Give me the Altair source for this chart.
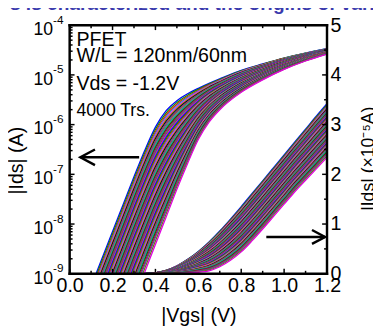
import altair as alt
import pandas as pd

# ---- data ----
# log-axis band: Vgs grid (V) and log10(|Ids| / A) of its leftmost and rightmost curves
LOG_V = [0.123, 0.20, 0.25, 0.30, 0.35, 0.40, 0.45, 0.50, 0.55, 0.60, 0.65, 0.70, 0.80, 0.90, 1.00, 1.10, 1.20]
LOG_LEFT = [-9.0, -8.15, -7.6, -7.05, -6.52, -6.05, -5.72, -5.52, -5.38, -5.27, -5.17, -5.08, -4.91, -4.78, -4.66, -4.56, -4.47]
LOG_RIGHT = [-11.5, -10.63, -10.08, -9.52, -8.97, -8.41, -7.86, -7.30, -6.78, -6.30, -5.95, -5.70, -5.35, -5.10, -4.89, -4.72, -4.58]
# linear-axis band: Vgs grid (V) and |Ids| (x1e-5 A) of its leftmost and rightmost curves
LIN_V = [0.35, 0.40, 0.45, 0.50, 0.55, 0.60, 0.65, 0.70, 0.75, 0.80, 0.85, 0.90, 0.95, 1.00, 1.05, 1.10, 1.15, 1.20]
LIN_LEFT = [0.0, 0.02, 0.07, 0.16, 0.29, 0.45, 0.64, 0.86, 1.10, 1.35, 1.61, 1.87, 2.13, 2.39, 2.65, 2.91, 3.17, 3.42]
LIN_RIGHT = [0.0, 0.0, 0.0, 0.0, 0.01, 0.03, 0.06, 0.14, 0.27, 0.44, 0.66, 0.90, 1.15, 1.40, 1.65, 1.88, 2.11, 2.34]
# position of each drawn transistor inside the spread (0 = leftmost, 1 = rightmost)
WEIGHTS = [0.00, 0.02, 0.04, 0.055, 0.07, 0.085, 0.10, 0.115, 0.13, 0.145, 0.16, 0.175,
           0.19, 0.205, 0.22, 0.235, 0.25, 0.265, 0.28, 0.295, 0.31, 0.325, 0.34, 0.355,
           0.37, 0.385, 0.40, 0.415, 0.43, 0.445, 0.46, 0.475, 0.49, 0.505, 0.52, 0.535,
           0.55, 0.565, 0.58, 0.595, 0.61, 0.625, 0.64, 0.655, 0.67, 0.685, 0.70, 0.715,
           0.73, 0.745, 0.76, 0.775, 0.79, 0.805, 0.82, 0.835, 0.85, 0.865, 0.88, 0.90,
           0.92, 0.94, 0.97, 1.00]
PALETTE = ["#0000ff", "#00a000", "#ff0000", "#00bfbf", "#ff00ff", "#a0a000",
           "#000000", "#7030a0", "#a05a2c", "#3c78b4", "#20a080", "#006400",
           "#c00040", "#5050a0", "#707020", "#e000e0"]

X_MAJOR = [0.0, 0.2, 0.4, 0.6, 0.8, 1.0, 1.2]
X_MINOR = [0.1, 0.3, 0.5, 0.7, 0.9, 1.1]
LOG_EXPS = [-4, -5, -6, -7, -8, -9]
LOG_MINOR = [k * 10.0 ** n for n in range(-9, -4) for k in range(2, 10)]
LIN_MAJOR = [0, 1, 2, 3, 4, 5]
LIN_MINOR = [0.5, 1.5, 2.5, 3.5, 4.5]

ANNOT_TEXT = ["PFET", "W/L = 120nm/60nm", "Vds = -1.2V", "4000 Trs."]
ANNOT_Y = [21, 38, 66, 93]
ANNOT_FS = [20, 20, 20, 18]

# arrows (data units)
LARROW_V = [0.324, 0.050, 0.118, 0.050, 0.118]
LARROW_E = [-6.657, -6.657, -6.500, -6.657, -6.814]
LARROW_SEG = [0, 0, 1, 1, 1]
RARROW_V = [0.917, 1.191, 1.130, 1.191, 1.130]
RARROW_J = [0.74, 0.74, 0.88, 0.74, 0.60]
RARROW_SEG = [0, 0, 1, 1, 1]

W, H = 263, 254

log_rows, lin_rows = [], []
for i, w in enumerate(WEIGHTS):
    c = PALETTE[i % len(PALETTE)]
    for v, a, b in zip(LOG_V, LOG_LEFT, LOG_RIGHT):
        log_rows.append({"curve": i, "V": v, "I": 10.0 ** (a + w * (b - a)), "color": c})
    for v, a, b in zip(LIN_V, LIN_LEFT, LIN_RIGHT):
        lin_rows.append({"curve": i, "V": v, "J": a + w * (b - a), "color": c})
log_df = pd.DataFrame(log_rows)
lin_df = pd.DataFrame(lin_rows)

xscale = alt.Scale(domain=[0, 1.2], nice=False, zero=False)
xaxis = alt.Axis(values=X_MAJOR, format=".1f", labelFontSize=20, ticks=False, domain=False,
                 grid=False, labelPadding=2, labelFlush=False, labelOverlap=False,
                 title="|Vgs|  (V)", titleFontSize=20, titleFontWeight="normal",
                 titleX=131.5, titleY=49, titleBaseline="alphabetic", titleAlign="center")
X = alt.X("V:Q", scale=xscale, axis=xaxis)

lscale = alt.Scale(type="log", domain=[1e-9, 1e-4], nice=False)
laxis = alt.Axis(labels=False, ticks=False, domain=False, grid=False,
                 title="|Ids|  (A)", titleFontSize=20, titleFontWeight="normal",
                 titleX=-54, titleY=138, titleAngle=270, titleBaseline="middle", titleAlign="center")
LY = alt.Y("I:Q", scale=lscale, axis=laxis)

rscale = alt.Scale(domain=[0, 5], nice=False, zero=False)
raxis = alt.Axis(orient="right", values=LIN_MAJOR, labelFontSize=20, ticks=False, domain=False,
                 grid=False, labelPadding=3, labelFlush=False, labelOverlap=False,
                 title="|Ids|  (×10⁻⁵A)", titleFontSize=18, titleFontWeight="normal",
                 titleX=43, titleY=136, titleAngle=270, titleBaseline="middle", titleAlign="center")
RY = alt.Y("J:Q", scale=rscale, axis=raxis)

log_lines = alt.Chart(log_df).mark_line(clip=True, strokeWidth=1.3, interpolate="monotone").encode(
    x=X, y=LY, detail="curve:N", color=alt.Color("color:N", scale=None))
lin_lines = alt.Chart(lin_df).mark_line(clip=True, strokeWidth=1.3, interpolate="monotone").encode(
    x=X, y=RY, detail="curve:N", color=alt.Color("color:N", scale=None))

xmaj = pd.DataFrame({"V": X_MAJOR})
xmin = pd.DataFrame({"V": X_MINOR})
tick_style = dict(color="black", strokeWidth=1.5)
bt_major = alt.Chart(xmaj).mark_rule(**tick_style).encode(x=X, y=alt.value(H), y2=alt.value(H - 5))
bt_minor = alt.Chart(xmin).mark_rule(**tick_style).encode(x=X, y=alt.value(H), y2=alt.value(H - 3))
tt_major = alt.Chart(xmaj).mark_rule(**tick_style).encode(x=X, y=alt.value(0), y2=alt.value(5))
tt_minor = alt.Chart(xmin).mark_rule(**tick_style).encode(x=X, y=alt.value(0), y2=alt.value(3))

lmaj = pd.DataFrame({"I": [10.0 ** e for e in LOG_EXPS], "exp": [str(e) for e in LOG_EXPS]})
lmin = pd.DataFrame({"I": LOG_MINOR})
lt_major = alt.Chart(lmaj).mark_rule(**tick_style).encode(y=LY, x=alt.value(0), x2=alt.value(5))
lt_minor = alt.Chart(lmin).mark_rule(**tick_style).encode(y=LY, x=alt.value(0), x2=alt.value(3))
lbl10 = alt.Chart(lmaj).mark_text(align="right", baseline="alphabetic", fontSize=18, dy=10).encode(
    y=LY, x=alt.value(-17), text=alt.value("10"))
lblexp = alt.Chart(lmaj).mark_text(align="left", baseline="alphabetic", fontSize=12, dy=-1.5).encode(
    y=LY, x=alt.value(-17), text="exp:N")

rmaj = pd.DataFrame({"J": LIN_MAJOR})
rmin = pd.DataFrame({"J": LIN_MINOR})
rt_major = alt.Chart(rmaj).mark_rule(**tick_style).encode(y=RY, x=alt.value(W), x2=alt.value(W - 5))
rt_minor = alt.Chart(rmin).mark_rule(**tick_style).encode(y=RY, x=alt.value(W), x2=alt.value(W - 3))

larrow_df = pd.DataFrame({"V": LARROW_V, "I": [10.0 ** e for e in LARROW_E], "seg": LARROW_SEG,
                          "o": list(range(len(LARROW_V)))})
larrow = alt.Chart(larrow_df).mark_line(color="black", strokeWidth=2.5, strokeJoin="miter").encode(
    x=X, y=LY, detail="seg:N", order="o:Q")
rarrow_df = pd.DataFrame({"V": RARROW_V, "J": RARROW_J, "seg": RARROW_SEG,
                          "o": list(range(len(RARROW_V)))})
rarrow = alt.Chart(rarrow_df).mark_line(color="black", strokeWidth=2.5, strokeJoin="miter").encode(
    x=X, y=RY, detail="seg:N", order="o:Q")

annot_df = pd.DataFrame({"t": ANNOT_TEXT, "py": ANNOT_Y, "fs": ANNOT_FS})
annot = alt.Chart(annot_df).mark_text(align="left", baseline="alphabetic", color="black").encode(
    x=alt.value(7), y=alt.Y("py:Q", scale=None), text="t:N", size=alt.Size("fs:Q", scale=None))

top_title = alt.Chart(pd.DataFrame({"t": ["tors is characterized and the origins of variabi"]})).mark_text(
    align="left", baseline="alphabetic", fontSize=19.5, fontWeight="bold", color="#3a3aad").encode(
    x=alt.value(-87), y=alt.value(-15.5), text="t:N")

frame_style = dict(color="black", strokeWidth=2.5, strokeCap="square")
frame = [
    alt.Chart().mark_rule(**frame_style).encode(x=alt.value(0), x2=alt.value(W), y=alt.value(0)),
    alt.Chart().mark_rule(**frame_style).encode(x=alt.value(0), x2=alt.value(W), y=alt.value(H)),
    alt.Chart().mark_rule(**frame_style).encode(y=alt.value(0), y2=alt.value(H), x=alt.value(0)),
    alt.Chart().mark_rule(**frame_style).encode(y=alt.value(0), y2=alt.value(H), x=alt.value(W)),
]

left = alt.layer(log_lines, lt_major, lt_minor, lbl10, lblexp, larrow, annot, top_title,
                 bt_major, bt_minor, tt_major, tt_minor)
right = alt.layer(lin_lines, rt_major, rt_minor, rarrow, *frame)

chart = alt.layer(left, right, data=pd.DataFrame({"a": [0]})).resolve_scale(y="independent").properties(
    width=W, height=H,
    autosize=alt.AutoSizeParams(type="none"),
    padding={"left": 63, "top": 14, "right": 47, "bottom": 58},
).configure_view(stroke=None).configure(font="Liberation Sans").configure_axis(
    labelColor="black", titleColor="black", labelFont="Liberation Sans", titleFont="Liberation Sans")

chart.save("out.html", embed_options={"renderer": "svg", "actions": False})
